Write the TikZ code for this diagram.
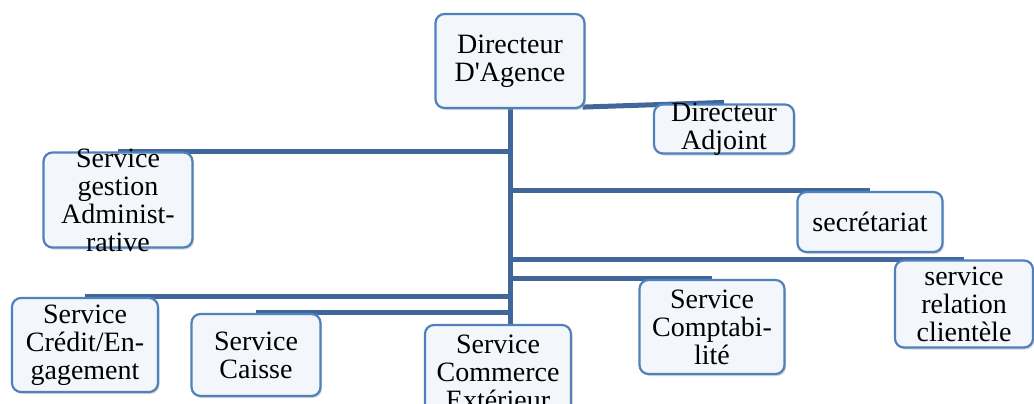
\documentclass[tikz,border=0pt]{standalone}
\usepackage{fontspec}
\setmainfont{Liberation Serif}[Ligatures=TeXOff]
\usetikzlibrary{shadows,backgrounds}
\definecolor{unitborder}{RGB}{79,129,189}
\definecolor{unitfill}{RGB}{243,246,251}
\definecolor{linkblue}{RGB}{65,103,154}
\begin{document}
\begin{tikzpicture}[x=1pt,y=-1pt,
  unit/.style={draw=unitborder, line width=2.2pt, rounded corners=9pt, fill=unitfill, inner sep=0pt,
    drop shadow={shadow xshift=1.5pt, shadow yshift=-2pt, fill=black!35, opacity=0.45}},
  unittext/.style={align=center, font=\fontsize{28}{28}\selectfont},
  link/.style={draw=linkblue, line width=5pt}]
\useasboundingbox (0,0) rectangle (1034,404);
\node[unit, minimum width=149pt, minimum height=94pt, label={[unittext]center:Directeur\\D'Agence}] (agence) at (510,61) {};
\node[unit, minimum width=140pt, minimum height=49pt, label={[unittext]center:Directeur\\Adjoint}] (adjoint) at (724,129) {};
\node[unit, minimum width=149pt, minimum height=95pt, label={[unittext]center:Service\\gestion\\Administ-\\rative}] (gestion) at (118,200) {};
\node[unit, minimum width=145pt, minimum height=60pt, label={[unittext]center:secrétariat}] (secretariat) at (870,222) {};
\node[unit, minimum width=138pt, minimum height=87pt, label={[unittext]center:service\\relation\\clientèle}] (relation) at (964,304) {};
\node[unit, minimum width=145pt, minimum height=94pt, label={[unittext]center:Service\\Comptabi-\\lité}] (compta) at (712,327) {};
\node[unit, minimum width=146pt, minimum height=94pt, label={[unittext]center:Service\\Crédit/En-\\gagement}] (credit) at (85,345) {};
\node[unit, minimum width=129pt, minimum height=82pt, label={[unittext]center:Service\\Caisse}] (caisse) at (256,355) {};
\node[unit, minimum width=146pt, minimum height=94pt, label={[unittext]center:Service\\Commerce\\Extérieur}] (commerce) at (498,372) {};
% liaisons
\begin{scope}[on background layer]
\draw[link] ([xshift=-3pt,yshift=2pt]agence.south east) -- ([yshift=1pt]adjoint.north);
\draw[link] (agence.south) -- (agence.south |- commerce.north);
\draw[link] (agence.south |- gestion.north) -- (gestion.north);
\draw[link] (agence.south |- secretariat.north) -- (secretariat.north);
\draw[link] (agence.south |- relation.north) -- (relation.north);
\draw[link] (agence.south |- compta.north) -- (compta.north);
\draw[link] (agence.south |- credit.north) -- (credit.north);
\draw[link] (agence.south |- caisse.north) -- (caisse.north);
\end{scope}
\end{tikzpicture}
\end{document}
